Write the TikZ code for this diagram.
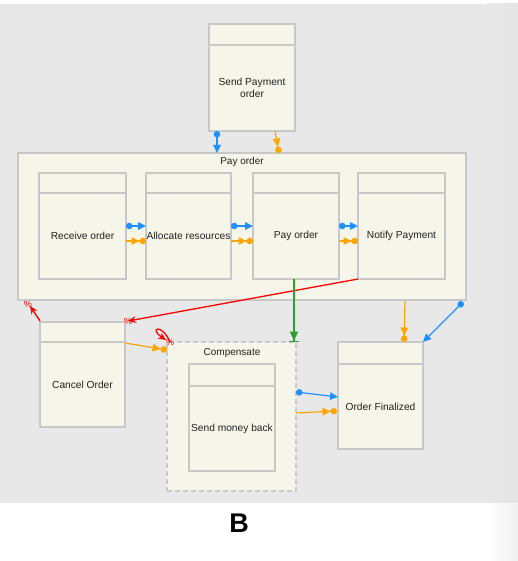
\documentclass[tikz,border=0pt]{standalone}
\usepackage{fontspec}
\setmainfont{Liberation Sans}
\usetikzlibrary{arrows.meta,calc}
\definecolor{bgA}{HTML}{E8E8E8}
\definecolor{bgB}{HTML}{E4E4E4}
\definecolor{bgC}{HTML}{F0F0F0}
\definecolor{boxfill}{HTML}{F5F5E9}
\definecolor{boxline}{HTML}{C8C8C8}
\definecolor{cblue}{HTML}{1E90FF}
\definecolor{corange}{HTML}{FFA500}
\definecolor{cred}{HTML}{FF0000}
\definecolor{cgreen}{HTML}{2CA02C}
\definecolor{txt}{HTML}{222222}
\newcommand{\actbox}[7]{%
  \node[boxst, anchor=north west, minimum width=#4pt, minimum height=#5pt] (#1) at (#2,#3) {};
  \draw[boxst] ($(#1.north west)+(0,#6)$) -- ($(#1.north east)+(0,#6)$);
  \node[lbl] (#1-t) at ($(#1.center)+(0,#6/2)$) {#7};
}
\begin{document}
\begin{tikzpicture}[x=1pt,y=-1pt,
  boxst/.style={draw=boxline, fill=boxfill, line width=1.5pt, inner sep=0pt, outer sep=0pt},
  contst/.style={boxst},
  dashcont/.style={boxst, dash pattern=on 5pt off 3pt},
  lbl/.style={font=\fontsize{10.2}{12}\selectfont, text=txt, align=center, inner sep=0pt},
  ttl/.style={font=\fontsize{10}{12}\selectfont, text=txt, inner sep=0pt},
  pct/.style={font=\fontsize{9}{10}\selectfont, text=cred, inner sep=0pt},
  blueflow/.style={draw=cblue, line width=1.2pt, {Circle[length=6.5pt]}-{Triangle[length=8pt,width=7.5pt]}},
  orangeflow/.style={draw=corange, line width=1.2pt, -{Triangle[length=8pt,width=7.5pt]Circle[length=6.5pt]}},
  redflow/.style={draw=cred, line width=1.3pt, -{Stealth[length=8pt,width=7pt]}},
  greenflow/.style={draw=cgreen, line width=1.3pt, -{Triangle[length=9pt,width=8pt]Bar[width=10pt]}}
]
\useasboundingbox (0,0) rectangle (518,561);
\fill[white] (0,0) rectangle (518,561);
\fill[bgA] (0,4) rectangle (487,503);
\shade[left color=bgA, right color=bgB] (487,4) rectangle (518,503);
\shade[left color=white, right color=bgC] (487,503) rectangle (518,561);

% boxes
\actbox{spo}{209}{24}{86}{107}{21}{Send Payment\\order}
\node[contst, anchor=north west, minimum width=448pt, minimum height=147pt] (payc) at (18,153) {};
\node[ttl] (payc-t) at (242,162) {Pay order};
\actbox{rec}{39}{173}{87}{106}{20}{Receive order}
\actbox{alloc}{146}{173}{85}{106}{20}{Allocate resources}
\actbox{payo}{253}{173}{86}{106}{20}{Pay order}
\actbox{notify}{358}{173}{87}{106}{20}{Notify Payment}
\actbox{cancel}{40}{322}{85}{105}{20}{Cancel Order}
\node[dashcont, anchor=north west, minimum width=129pt, minimum height=149pt] (comp) at (167,342) {};
\node[ttl] (comp-t) at (232,353) {Compensate};
\actbox{smb}{189}{364}{86}{107}{22}{Send money back}
\actbox{ordfin}{338}{342}{85}{107}{22}{Order Finalized}

% connectors
\draw[blueflow] ([xshift=8pt]spo.south west) -- ([xshift=8pt]spo.south west |- payc.north);
\draw[orangeflow] ([xshift=66pt]spo.south west) -- ([xshift=70pt]spo.south west |- payc.north);

\draw[blueflow] ($(rec.north east)+(0,53)$) -- ($(alloc.north west)+(0,53)$);
\draw[orangeflow] ($(rec.north east)+(0,68)$) -- ($(alloc.north west)+(0,68)$);
\draw[blueflow] ($(alloc.north east)+(0,53)$) -- ($(payo.north west)+(0,53)$);
\draw[orangeflow] ($(alloc.north east)+(0,68)$) -- ($(payo.north west)+(0,68)$);
\draw[blueflow] ($(payo.north east)+(0,53)$) -- ($(notify.north west)+(0,53)$);
\draw[orangeflow] ($(payo.north east)+(0,68)$) -- ($(notify.north west)+(0,68)$);

\draw[redflow] (notify.south west) -- ($(cancel.north east)+(3,-1)$) node[pct, pos=1] (p1) {\%};
\draw[redflow] ($(cancel.north west)+(0,-1)$) -- ($(payc.south west)+(12,6)$) node[pct, pos=1, xshift=-2pt, yshift=2pt] (p2) {\%};
\draw[redflow] ($(comp.north west)+(3,0)$) .. controls +(-8,-19) and +(-18,-12) .. ($(comp.north west)+(-1,-2)$);
\node[pct] (p3) at ($(comp.north west)+(3,0)$) {\%};

\draw[orangeflow] ($(cancel.north east)+(0,21)$) -- ($(comp.north west)+(0,8)$);
\draw[greenflow] ([xshift=-2pt]payo.south) -- ([xshift=-2pt]payo.south |- comp.north);

\draw[blueflow] ($(comp.north east)+(0,50)$) -- ($(ordfin.north west)+(0,55)$);
\draw[orangeflow] ($(comp.north east)+(0,71)$) -- ($(ordfin.north west)+(-1,69)$);
\draw[orangeflow] ($(payc.south west)+(387,1)$) -- ($(ordfin.north west)+(66,0)$);
\draw[blueflow] ($(payc.south east)+(-3,2)$) -- (ordfin.north east);

\node[font=\bfseries\fontsize{27}{30}\selectfont] (lab) at (239,523) {B};
\end{tikzpicture}
\end{document}
